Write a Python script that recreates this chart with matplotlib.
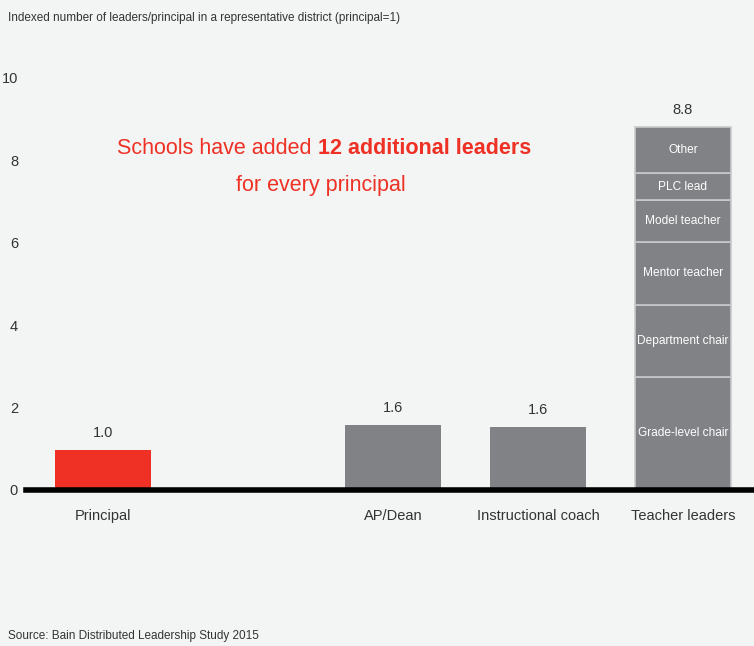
import numpy as np
import matplotlib.pyplot as plt

plt.rcParams['font.family'] = ['Liberation Sans', 'DejaVu Sans']

# data
categories = ["Principal", "AP/Dean", "Instructional coach", "Teacher leaders"]
positions = [0, 2, 3, 4]
totals = [1.0, 1.6, 1.6, 8.8]
total_labels = ["1.0", "1.6", "1.6", "8.8"]
bar_colors = ["#ee3124", "#808285", "#808285", "#808285"]
# heights (first three bars drawn a bit below their labels)
simple_heights = [0.97, 1.57, 1.52]

segment_names = ["Grade-level chair", "Department chair", "Mentor teacher",
                 "Model teacher", "PLC lead", "Other"]
segment_values = [2.75, 1.74, 1.54, 1.01, 0.65, 1.11]

bg = "#f3f4f4"
gray = "#808285"
txt = "#333333"

fig = plt.figure(figsize=(7.54, 6.46), dpi=100, facecolor=bg)
ax = fig.add_axes([0.035, 0.2415, 0.965, 0.6697], facecolor=bg)

width = 0.66
for p, h, c in zip(positions[:3], simple_heights, bar_colors[:3]):
    ax.bar(p, h, width=width, color=c, edgecolor="none")

bottom = 0
for name, v in zip(segment_names, segment_values):
    ax.bar(positions[3], v, width=width, bottom=bottom, color=gray,
           edgecolor="#c9cacb", linewidth=1.2)
    ax.text(positions[3], bottom + v / 2, name, ha="center", va="center",
            color="white", fontsize=8.6)
    bottom += v

# value labels above bars
tops = simple_heights + [sum(segment_values)]
for p, t, lab in zip(positions, tops, total_labels):
    ax.text(p, t + 0.42, lab, ha="center", va="center", fontsize=10.5, color=txt)

ax.set_xlim(-0.53, 4.49)
ax.set_ylim(0, 10.5)
ax.set_yticks([0, 2, 4, 6, 8, 10])
ax.tick_params(axis="y", length=0, pad=6, labelsize=10.5, labelcolor=txt)
ax.set_xticks(positions)
ax.set_xticklabels(categories)
ax.tick_params(axis="x", length=0, pad=14, labelsize=10.5, labelcolor=txt)

for s in ["top", "right", "left"]:
    ax.spines[s].set_visible(False)
ax.spines["bottom"].set_linewidth(4)
ax.spines["bottom"].set_color("black")
ax.spines["bottom"].set_zorder(5)

# callout text
ax.text(1.48, 8.3, "Schools have added ", ha="right", va="center",
        fontsize=15.5, color="#ee3124")
ax.text(1.48, 8.3, "12 additional leaders", ha="left", va="center",
        fontsize=15.5, color="#ee3124", fontweight="bold")
ax.text(1.50, 7.4, "for every principal", ha="center", va="center",
        fontsize=15.5, color="#ee3124")

fig.text(0.01, 0.972, "Indexed number of leaders/principal in a representative district (principal=1)",
         ha="left", va="center", fontsize=8.5, color=txt)
fig.text(0.01, 0.015, "Source: Bain Distributed Leadership Study 2015",
         ha="left", va="center", fontsize=8.5, color=txt)

fig.savefig("out.png", dpi=100, facecolor=bg)
